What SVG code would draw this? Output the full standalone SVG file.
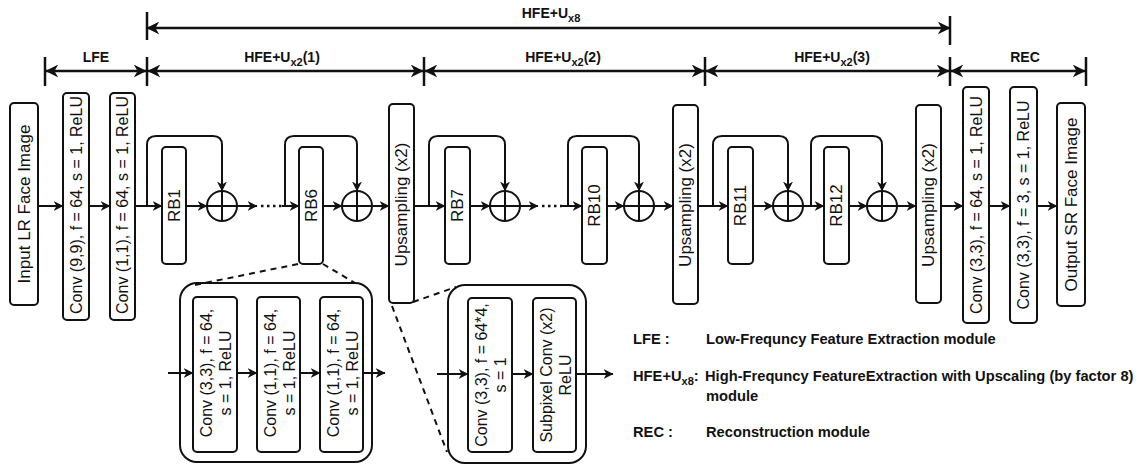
<svg xmlns="http://www.w3.org/2000/svg" width="1140" height="466" viewBox="0 0 1140 466">
<style>
.box{fill:#fff;stroke:#111;stroke-width:2}
.outer{fill:none;stroke:#111;stroke-width:2}
.t{font-family:"Liberation Sans",Arial,sans-serif;font-size:16px;fill:#111}
.t17{font-size:17px}
.b{font-family:"Liberation Sans",Arial,sans-serif;font-weight:bold;font-size:14px;fill:#111}
.lg{font-size:14.7px}
.ln{fill:none;stroke:#111;stroke-width:2}
.dim{fill:none;stroke:#111;stroke-width:2.5}
.dash{fill:none;stroke:#111;stroke-width:2;stroke-dasharray:6 5}
.dots{fill:none;stroke:#111;stroke-width:2.5;stroke-dasharray:2.5 3.5}
</style>
<defs>
<marker id="a" viewBox="0 0 10 10" refX="9.5" refY="5" markerWidth="10" markerHeight="10" markerUnits="userSpaceOnUse" orient="auto"><path d="M0,0 L10,5 L0,10 L3,5 z" fill="#111"/></marker>
<marker id="d" viewBox="0 0 10 10" refX="9.5" refY="5" markerWidth="13" markerHeight="13" markerUnits="userSpaceOnUse" orient="auto-start-reverse"><path d="M0,0 L10,5 L0,10 L3,5 z" fill="#111"/></marker>
</defs>
<rect width="1140" height="466" fill="#fff"/>

<g id="dimensions">
<line class="dim" x1="147" y1="28" x2="950" y2="28" marker-start="url(#d)" marker-end="url(#d)"/>
<line class="dim" x1="147" y1="12" x2="147" y2="40"/>
<line class="dim" x1="950" y1="16" x2="950" y2="45"/>
<text class="b" x="551" y="18" text-anchor="middle">HFE+U<tspan font-size="11" dy="4">x8</tspan></text>
<line class="dim" x1="45" y1="57" x2="45" y2="86"/>
<line class="dim" x1="147" y1="57" x2="147" y2="86"/>
<line class="dim" x1="424" y1="57" x2="424" y2="86"/>
<line class="dim" x1="705" y1="57" x2="705" y2="86"/>
<line class="dim" x1="950" y1="57" x2="950" y2="86"/>
<line class="dim" x1="1086" y1="57" x2="1086" y2="86"/>
<line class="dim" x1="46" y1="71" x2="146" y2="71" marker-start="url(#d)" marker-end="url(#d)"/>
<line class="dim" x1="148" y1="71" x2="423" y2="71" marker-start="url(#d)" marker-end="url(#d)"/>
<line class="dim" x1="425" y1="71" x2="704" y2="71" marker-start="url(#d)" marker-end="url(#d)"/>
<line class="dim" x1="706" y1="71" x2="949" y2="71" marker-start="url(#d)" marker-end="url(#d)"/>
<line class="dim" x1="951" y1="71" x2="1085" y2="71" marker-start="url(#d)" marker-end="url(#d)"/>
<text class="b" x="96" y="62" text-anchor="middle">LFE</text>
<text class="b" x="282" y="62" text-anchor="middle">HFE+U<tspan font-size="11" dy="4">x2</tspan><tspan dy="-4">(1)</tspan></text>
<text class="b" x="563" y="62" text-anchor="middle">HFE+U<tspan font-size="11" dy="4">x2</tspan><tspan dy="-4">(2)</tspan></text>
<text class="b" x="832" y="62" text-anchor="middle">HFE+U<tspan font-size="11" dy="4">x2</tspan><tspan dy="-4">(3)</tspan></text>
<text class="b" x="1025" y="62" text-anchor="middle">REC</text>
</g>

<g id="connectors">
<line class="ln" x1="38" y1="206" x2="63" y2="206" marker-end="url(#a)"/>
<line class="ln" x1="89" y1="206" x2="110" y2="206" marker-end="url(#a)"/>
<line class="ln" x1="135" y1="206" x2="162" y2="206" marker-end="url(#a)"/>
<line class="ln" x1="186" y1="206" x2="207" y2="206" marker-end="url(#a)"/>
<line class="ln" x1="237" y1="206" x2="257" y2="206" marker-end="url(#a)"/>
<line class="dots" x1="261" y1="206" x2="282" y2="206"/>
<line class="ln" x1="282" y1="206" x2="299" y2="206" marker-end="url(#a)"/>
<line class="ln" x1="323" y1="206" x2="342" y2="206" marker-end="url(#a)"/>
<line class="ln" x1="372" y1="206" x2="389" y2="206" marker-end="url(#a)"/>
<line class="ln" x1="414" y1="206" x2="445" y2="206" marker-end="url(#a)"/>
<line class="ln" x1="470" y1="206" x2="490" y2="206" marker-end="url(#a)"/>
<line class="ln" x1="520" y1="206" x2="538" y2="206" marker-end="url(#a)"/>
<line class="dots" x1="542" y1="206" x2="562" y2="206"/>
<line class="ln" x1="562" y1="206" x2="582" y2="206" marker-end="url(#a)"/>
<line class="ln" x1="607" y1="206" x2="624" y2="206" marker-end="url(#a)"/>
<line class="ln" x1="654" y1="206" x2="673" y2="206" marker-end="url(#a)"/>
<line class="ln" x1="698" y1="206" x2="728" y2="206" marker-end="url(#a)"/>
<line class="ln" x1="753" y1="206" x2="773" y2="206" marker-end="url(#a)"/>
<line class="ln" x1="803" y1="206" x2="824" y2="206" marker-end="url(#a)"/>
<line class="ln" x1="849" y1="206" x2="867" y2="206" marker-end="url(#a)"/>
<line class="ln" x1="897" y1="206" x2="916" y2="206" marker-end="url(#a)"/>
<line class="ln" x1="941" y1="206" x2="963" y2="206" marker-end="url(#a)"/>
<line class="ln" x1="989" y1="206" x2="1010" y2="206" marker-end="url(#a)"/>
<line class="ln" x1="1037" y1="206" x2="1057" y2="206" marker-end="url(#a)"/>
<path class="ln" d="M147,206 V145 Q147,136 156,136 H213 Q222,136 222,145 V191" marker-end="url(#a)"/>
<path class="ln" d="M285,206 V145 Q285,136 294,136 H348 Q357,136 357,145 V191" marker-end="url(#a)"/>
<path class="ln" d="M429,206 V145 Q429,136 438,136 H496 Q505,136 505,145 V191" marker-end="url(#a)"/>
<path class="ln" d="M568,206 V145 Q568,136 577,136 H630 Q639,136 639,145 V191" marker-end="url(#a)"/>
<path class="ln" d="M713,206 V145 Q713,136 722,136 H779 Q788,136 788,145 V191" marker-end="url(#a)"/>
<path class="ln" d="M811,206 V145 Q811,136 820,136 H873 Q882,136 882,145 V191" marker-end="url(#a)"/>
<line class="dash" x1="298" y1="264" x2="195" y2="285"/>
<line class="dash" x1="323" y1="264" x2="355" y2="283"/>
<line class="dash" x1="413" y1="302" x2="456" y2="287"/>
<line class="dash" x1="392" y1="306" x2="447" y2="452"/>
<line class="ln" x1="168" y1="373" x2="193" y2="373" marker-end="url(#a)"/>
<line class="ln" x1="237" y1="373" x2="257" y2="373" marker-end="url(#a)"/>
<line class="ln" x1="300" y1="373" x2="320" y2="373" marker-end="url(#a)"/>
<line class="ln" x1="363" y1="373" x2="385" y2="373" marker-end="url(#a)"/>
<line class="ln" x1="437" y1="374" x2="468" y2="374" marker-end="url(#a)"/>
<line class="ln" x1="512" y1="374" x2="533" y2="374" marker-end="url(#a)"/>
<line class="ln" x1="576" y1="374" x2="613" y2="374" marker-end="url(#a)"/>
</g>

<g id="input"><rect class="box" x="10" y="103" width="28" height="202" rx="4"/><text class="t t17" transform="translate(24,204) rotate(-90)" text-anchor="middle" dy="0.35em">Input LR Face Image</text></g>
<g id="conv9"><rect class="box" x="63" y="93" width="26" height="227" rx="4"/><text class="t" transform="translate(76,205) rotate(-90)" text-anchor="middle" dy="0.35em">Conv (9,9), f = 64, s = 1, ReLU</text></g>
<g id="conv1"><rect class="box" x="110" y="93" width="25" height="227" rx="4"/><text class="t" transform="translate(122.5,205) rotate(-90)" text-anchor="middle" dy="0.35em">Conv (1,1), f = 64, s = 1, ReLU</text></g>

<g id="rb1"><rect class="box" x="162" y="147" width="24" height="117" rx="4"/><text class="t t17" transform="translate(174,205.5) rotate(-90)" text-anchor="middle" dy="0.35em">RB1</text></g>
<g id="sum1"><circle class="box" cx="222" cy="206" r="15"/><path class="ln" d="M207,206 H237 M222,191 V221"/></g>
<g id="rb6"><rect class="box" x="299" y="147" width="24" height="117" rx="4"/><text class="t t17" transform="translate(311,205.5) rotate(-90)" text-anchor="middle" dy="0.35em">RB6</text></g>
<g id="sum2"><circle class="box" cx="357" cy="206" r="15"/><path class="ln" d="M342,206 H372 M357,191 V221"/></g>
<g id="up1"><rect class="box" x="389" y="104" width="25" height="199" rx="4"/><text class="t t17" transform="translate(401.5,204.5) rotate(-90)" text-anchor="middle" dy="0.35em">Upsampling (x2)</text></g>

<g id="rb7"><rect class="box" x="445" y="147" width="25" height="117" rx="4"/><text class="t t17" transform="translate(457.5,205.5) rotate(-90)" text-anchor="middle" dy="0.35em">RB7</text></g>
<g id="sum3"><circle class="box" cx="505" cy="206" r="15"/><path class="ln" d="M490,206 H520 M505,191 V221"/></g>
<g id="rb10"><rect class="box" x="582" y="147" width="25" height="117" rx="4"/><text class="t t17" transform="translate(594.5,205.5) rotate(-90)" text-anchor="middle" dy="0.35em">RB10</text></g>
<g id="sum4"><circle class="box" cx="639" cy="206" r="15"/><path class="ln" d="M624,206 H654 M639,191 V221"/></g>
<g id="up2"><rect class="box" x="673" y="105" width="25" height="199" rx="4"/><text class="t t17" transform="translate(685.5,205) rotate(-90)" text-anchor="middle" dy="0.35em">Upsampling (x2)</text></g>

<g id="rb11"><rect class="box" x="728" y="147" width="25" height="117" rx="4"/><text class="t t17" transform="translate(740.5,205.5) rotate(-90)" text-anchor="middle" dy="0.35em">RB11</text></g>
<g id="sum5"><circle class="box" cx="788" cy="206" r="15"/><path class="ln" d="M773,206 H803 M788,191 V221"/></g>
<g id="rb12"><rect class="box" x="824" y="147" width="25" height="117" rx="4"/><text class="t t17" transform="translate(836.5,205.5) rotate(-90)" text-anchor="middle" dy="0.35em">RB12</text></g>
<g id="sum6"><circle class="box" cx="882" cy="206" r="15"/><path class="ln" d="M867,206 H897 M882,191 V221"/></g>
<g id="up3"><rect class="box" x="916" y="105" width="25" height="198" rx="4"/><text class="t t17" transform="translate(928.5,205) rotate(-90)" text-anchor="middle" dy="0.35em">Upsampling (x2)</text></g>

<g id="conv33a"><rect class="box" x="963" y="87" width="26" height="236" rx="4"/><text class="t" transform="translate(976,205) rotate(-90)" text-anchor="middle" dy="0.35em">Conv (3,3), f = 64, s = 1, ReLU</text></g>
<g id="conv33b"><rect class="box" x="1010" y="87" width="27" height="236" rx="4"/><text class="t" transform="translate(1023.5,205) rotate(-90)" text-anchor="middle" dy="0.35em">Conv (3,3), f = 3, s = 1, ReLU</text></g>
<g id="output"><rect class="box" x="1057" y="103" width="28" height="203" rx="4"/><text class="t t17" transform="translate(1071,204.5) rotate(-90)" text-anchor="middle" dy="0.35em">Output SR Face Image</text></g>

<g id="rb-detail">
<rect class="outer" x="180" y="283" width="192" height="179" rx="17"/>
<rect class="box" x="193" y="297" width="44" height="155" rx="4"/>
<text class="t" transform="translate(215,373) rotate(-90)" text-anchor="middle"><tspan x="0" y="-3">Conv (3,3), f = 64,</tspan><tspan x="0" y="16">s = 1, ReLU</tspan></text>
<rect class="box" x="257" y="297" width="43" height="155" rx="4"/>
<text class="t" transform="translate(278.5,373) rotate(-90)" text-anchor="middle"><tspan x="0" y="-3">Conv (1,1), f = 64,</tspan><tspan x="0" y="16">s = 1, ReLU</tspan></text>
<rect class="box" x="320" y="297" width="43" height="155" rx="4"/>
<text class="t" transform="translate(341.5,373) rotate(-90)" text-anchor="middle"><tspan x="0" y="-3">Conv (1,1), f = 64,</tspan><tspan x="0" y="16">s = 1, ReLU</tspan></text>
</g>

<g id="up-detail">
<rect class="outer" x="448" y="285" width="138" height="178" rx="17"/>
<rect class="box" x="468" y="298" width="44" height="154" rx="4"/>
<text class="t" transform="translate(490,375) rotate(-90)" text-anchor="middle"><tspan x="0" y="-3">Conv (3,3), f = 64*4,</tspan><tspan x="0" y="16">s = 1</tspan></text>
<rect class="box" x="533" y="298" width="43" height="154" rx="4"/>
<text class="t" transform="translate(554.5,375) rotate(-90)" text-anchor="middle"><tspan x="0" y="-3">Subpixel Conv (x2)</tspan><tspan x="0" y="16">ReLU</tspan></text>
</g>

<g id="legend">
<text class="b lg" x="633" y="344">LFE :</text>
<text class="b lg" x="706" y="344">Low-Frequncy Feature Extraction module</text>
<text class="b lg" x="633" y="381">HFE+U<tspan font-size="11" dy="4">x8</tspan><tspan dy="-4">:</tspan></text>
<text class="b lg" x="705" y="381">High-Frequncy FeatureExtraction with Upscaling (by factor 8)</text>
<text class="b lg" x="706" y="401">module</text>
<text class="b lg" x="633" y="437">REC :</text>
<text class="b lg" x="706" y="437">Reconstruction module</text>
</g>
</svg>
